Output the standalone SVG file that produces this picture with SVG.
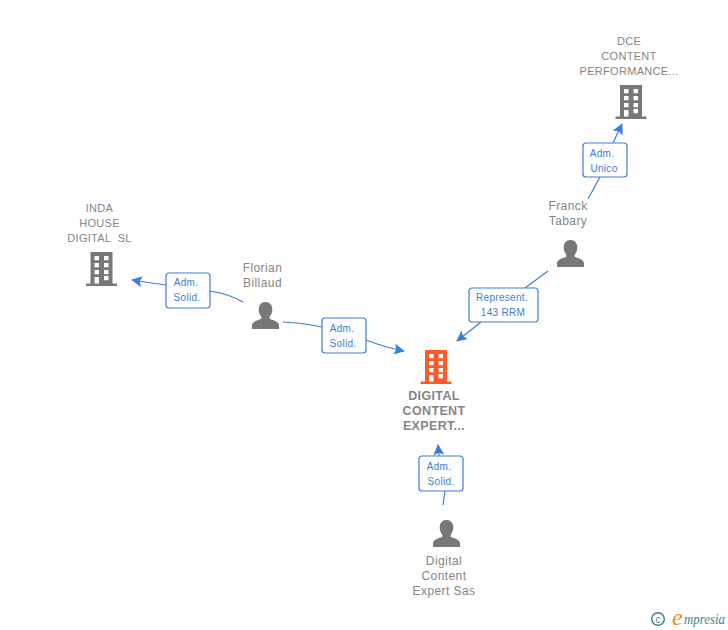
<svg xmlns="http://www.w3.org/2000/svg" xmlns:xlink="http://www.w3.org/1999/xlink" width="728" height="630" viewBox="0 0 728 630">
<style>
text{font-family:"Liberation Sans",Arial,sans-serif}
.n{font-size:12px;fill:#858585;text-anchor:middle;letter-spacing:.42px;white-space:pre}
.s{font-size:11px;letter-spacing:.3px}
.b{font-weight:700;font-size:12.5px;letter-spacing:.35px}
.l{font-size:10px;fill:#3b7ddd;text-anchor:middle;letter-spacing:.3px}
.c{fill:none;stroke:#3b7ddd;stroke-width:1.2}
.box{fill:#fff;stroke:#3b7ddd;stroke-width:1.2}
</style>
<defs>
<marker id="a" viewBox="0 0 12 12" refX="11" refY="6" markerWidth="11" markerHeight="11" markerUnits="userSpaceOnUse" orient="auto"><path d="M0 0L12 6L0 12L2.500 6Z" fill="#3b7ddd"/></marker>
<symbol id="bld" overflow="visible"><path fill-rule="evenodd" d="M-11 0H11V31.500H15.500V34H-15.500V31.500H-11ZM-7 4V8.300H-2.500V4ZM2.500 4V8.300H7V4ZM-7 11V15.300H-2.500V11ZM2.500 11V15.300H7V11ZM-7 18V22.300H-2.500V18ZM2.500 18V22.300H7V18ZM-7 25V31.500H-2.500V25ZM2.500 24V28.300H7V24Z"/></symbol>
<path id="psn" d="M0 0C4.500 0 6.800 3.300 6.800 7.500C6.800 10.500 5.800 13 4.200 14.800V16.800C8 18.600 13.500 19.500 13.500 23.500V27H-13.500V23.500C-13.500 19.500 -8 18.600 -4.200 16.800V14.800C-5.800 13 -6.800 10.500 -6.800 7.500C-6.800 3.300 -4.500 0 0 0Z" fill="#787878"/>
</defs>
<g id="connectors">
<path class="c" d="M243 302Q229 294 210 291"/>
<path class="c" marker-end="url(#a)" d="M166 285Q150 283 132 280"/>
<path class="c" d="M283 322Q304 323 322 327"/>
<path class="c" marker-end="url(#a)" d="M366 340Q384 347 404 351"/>
<path class="c" d="M548 271L525 288"/>
<path class="c" marker-end="url(#a)" d="M481 322L457 341"/>
<path class="c" d="M588 199L600 177"/>
<path class="c" marker-end="url(#a)" d="M613 143L622 124"/>
<path class="c" d="M443 505L445 491"/>
<path class="c" marker-end="url(#a)" d="M439 456L438 445"/>
</g>
<g id="label-inda"><rect class="box" x="166" y="273" width="44" height="35" rx="3"/><text class="l" x="186" y="286">Adm.</text><text class="l" x="187" y="301">Solid.</text></g>
<g id="label-digital"><rect class="box" x="322" y="318" width="44" height="35" rx="3"/><text class="l" x="342" y="332">Adm.</text><text class="l" x="343" y="347">Solid.</text></g>
<g id="label-rep"><rect class="box" x="469" y="288" width="69" height="34" rx="3"/><text class="l" x="502" y="301">Represent.</text><text class="l" x="503" y="316">143 RRM</text></g>
<g id="label-dce"><rect class="box" x="583" y="143" width="44" height="34" rx="3"/><text class="l" x="602" y="157">Adm.</text><text class="l" x="604" y="172">Unico</text></g>
<g id="label-sas"><rect class="box" x="419" y="456" width="44" height="35" rx="3"/><text class="l" x="439" y="470">Adm.</text><text class="l" x="441" y="485">Solid.</text></g>
<g id="node-dce" fill="#787878"><use xlink:href="#bld" href="#bld" x="631" y="85"/><text class="n s"><tspan x="629" y="45">DCE</tspan><tspan x="629" y="60">CONTENT</tspan><tspan x="629" y="75">PERFORMANCE...</tspan></text></g>
<g id="node-inda" fill="#787878"><use xlink:href="#bld" href="#bld" x="101.500" y="252"/><text class="n s"><tspan x="99.500" y="212">INDA</tspan><tspan x="99.500" y="227">HOUSE</tspan><tspan x="99.500" y="242">DIGITAL  SL</tspan></text></g>
<g id="node-main" fill="#ff5a2b"><use xlink:href="#bld" href="#bld" x="436" y="350"/><text class="n b"><tspan x="434" y="400">DIGITAL</tspan><tspan x="434" y="415">CONTENT</tspan><tspan x="434" y="430">EXPERT...</tspan></text></g>
<g id="node-franck"><use xlink:href="#psn" href="#psn" x="570.500" y="240"/><text class="n"><tspan x="568" y="210">Franck</tspan><tspan x="568" y="225">Tabary</tspan></text></g>
<g id="node-florian"><use xlink:href="#psn" href="#psn" x="265.500" y="302"/><text class="n"><tspan x="262.500" y="272">Florian</tspan><tspan x="262.500" y="287">Billaud</tspan></text></g>
<g id="node-sas"><use xlink:href="#psn" href="#psn" x="446.500" y="520"/><text class="n"><tspan x="444" y="565">Digital</tspan><tspan x="444" y="580">Content</tspan><tspan x="444" y="595">Expert Sas</tspan></text></g>
<g id="logo"><circle cx="658" cy="619" r="6.300" fill="none" stroke="#3f7f94" stroke-width="1.500"/><text x="658" y="622.500" text-anchor="middle" style="font-size:10px" fill="#3f7f94">c</text><text x="672" y="625" style="font-family:'Liberation Serif',serif;font-size:24px;font-style:italic" fill="#f08a1d">e</text><text x="684" y="624" textLength="41" lengthAdjust="spacingAndGlyphs" style="font-family:'Liberation Serif',serif;font-size:14px;font-style:italic" fill="#3f7f94">mpresia</text></g>
</svg>
